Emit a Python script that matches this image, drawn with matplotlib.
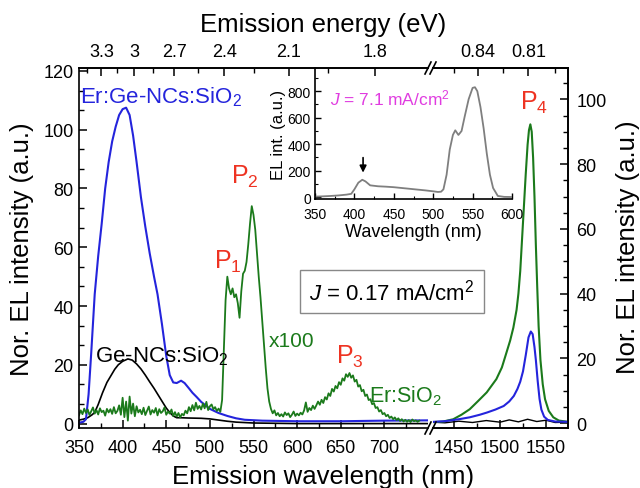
import numpy as np
import matplotlib
matplotlib.use('Agg')
import matplotlib.pyplot as plt
from matplotlib.ticker import MultipleLocator, FixedLocator
from matplotlib.lines import Line2D

plt.rcParams['font.family'] = ['Liberation Sans', 'DejaVu Sans']
plt.rcParams['mathtext.fontset'] = 'custom'
plt.rcParams['mathtext.rm'] = 'Liberation Sans'
plt.rcParams['mathtext.it'] = 'Liberation Sans:italic'

# ---- visible region (nm) ----
blue_wl = [350, 355, 358, 361, 364, 368, 372, 376, 380, 384, 388, 392, 396, 400, 404,
           408, 412, 416, 421, 426, 431, 436, 440, 445, 450, 454, 458, 462, 467, 471,
           476, 480, 485, 490, 495, 500, 510, 520, 530, 540, 560, 600, 650, 700, 750]
blue_v = [0.3, 0.6, 1.5, 10, 24, 44, 57, 68, 80, 89, 96, 101, 105, 107, 107.5,
          105, 98, 89, 77, 67, 58, 50, 44, 34, 23, 16.5, 14, 13.8, 14.6, 13.8,
          12, 10.5, 9, 7.4, 6.2, 5, 3.6, 2.6, 1.8, 1.3, 1.0, 0.8, 0.8, 1.0, 1.1]

black_wl = [350, 355, 360, 365, 368, 372, 377, 382, 387, 391, 395, 400, 406, 411, 416,
            421, 426, 431, 436, 441, 446, 450, 454, 458, 462, 466, 475, 490, 500, 510,
            520, 530, 550, 600, 650, 700, 750]
black_v = [1.2, 1.5, 2.0, 3.0, 3.8, 6.5, 10.5, 14, 16.5, 18.5, 20, 21.2, 22, 21.6, 20.3,
           18.6, 16.5, 14.2, 12, 9.6, 7.2, 5.3, 3.8, 2.6, 2.0, 2.0, 1.9, 1.8, 1.6, 1.2,
           0.8, 0.5, 0.2, 0.0, 0.0, 0.0, 0.0]

# Er:SiO2 (x100), 2 nm steps from 350 to 740 nm
green_wl = np.arange(350, 741, 2)
green_v = [
    # 350-398
    2.8, 4.5, 3.2, 5.1, 3.6, 4.8, 2.9, 4.2, 5.5, 3.4, 4.6, 3.1, 5.2, 3.9, 4.4, 2.7,
    5.0, 3.8, 4.9, 3.3, 5.6, 3.5, 4.3, 6.2, 3.0,
    # 400-418
    8.8, 2.2, 7.5, 1.0, 9.2, 3.4, 6.8, 2.5, 5.9, 3.8,
    # 420-460
    4.7, 3.2, 5.4, 2.9, 4.4, 5.8, 3.1, 4.6, 3.7, 5.3, 2.8, 4.9, 3.6, 4.2, 5.5, 3.0,
    4.1, 3.4, 4.8, 2.6, 3.9,
    # 462-478
    2.4, 3.6, 2.1, 3.3, 2.8, 4.4, 3.5, 5.6, 4.2,
    # 480-512
    6.3, 4.5, 7.1, 5.0, 6.0, 4.8, 6.8, 5.2, 7.4, 4.6, 5.9, 6.5, 4.9, 5.6, 4.3, 5.1, 4.0,
    # 514-580
    8, 25, 42, 50, 46, 44, 46, 43, 44, 41, 36, 45, 51, 52, 55, 61, 68, 74, 71, 66,
    58, 50, 43, 35, 27, 19, 12, 7.5, 5, 3.5, 4.5, 2.8, 3.6, 2.5,
    # 582-620
    3.2, 2.4, 3.8, 2.9, 3.5, 2.2, 3.0, 4.1, 2.6, 3.4, 2.8, 3.7, 3.1, 4.5, 7.2, 4.0,
    5.3, 4.6, 6.1, 5.0,
    # 622-700
    6.2, 7.5, 6.4, 8.1, 7.0, 9.0, 8.2, 10.3, 9.4, 11.8, 10.9, 12.8, 12.0, 14.1, 13.2,
    15.4, 14.6, 16.8, 15.9, 17.2, 15.6, 16.4, 14.3, 14.9, 12.6, 13.1, 11.0, 11.5, 9.4,
    9.9, 8.0, 8.3, 6.6, 7.0, 5.3, 5.6, 4.1, 4.6, 3.2, 3.6,
    # 702-740
    2.5, 3.0, 1.9, 2.4, 1.5, 2.1, 1.2, 1.8, 0.9, 1.5, 0.7, 1.3, 0.6, 1.2, 0.5, 1.4,
    0.8, 1.1, 0.6, 1.0]

# ---- IR region (nm), right axis ----
blue_ir_wl = [1427, 1440, 1455, 1467, 1478, 1486, 1495, 1504, 1510, 1515, 1519, 1522,
              1525, 1528, 1531, 1533.5, 1535.5, 1537.5, 1539, 1541, 1543, 1545, 1548,
              1552, 1560, 1574]
blue_ir_v = [0.4, 0.6, 1.2, 1.8, 2.6, 3.3, 4.2, 5.3, 6.7, 8.4, 10.6, 12.8,
             16, 21, 26.5, 28.3, 27.5, 23.5, 19.5, 13, 7.5, 4.2, 2.0,
             1.0, 0.5, 0.4]

green_ir_wl = [1427, 1438, 1449, 1458, 1467, 1476, 1485.5, 1496, 1502, 1507, 1511,
               1514.5, 1518, 1520, 1522, 1524, 1526, 1528, 1530, 1531.5, 1533, 1534.5,
               1536, 1537.5, 1539, 1540.5, 1542, 1544, 1546.5, 1549, 1553, 1558, 1564,
               1574]
green_ir_v = [0.3, 0.5, 1.2, 2.6, 4.3, 6.8, 9.5, 13.6, 17.2, 21.8, 25.5,
              29.5, 35, 40, 47, 57, 67, 77, 86, 90.5, 92.3, 90,
              82, 70, 55, 42, 30, 19.5, 12, 7.4, 3.8, 1.8, 0.8,
              0.4]

black_ir_wl = [1427, 1440, 1455, 1470, 1485, 1500, 1510, 1520, 1530, 1540, 1550, 1560, 1574]
black_ir_v = [0.3, 0.1, 0.6, 0.2, 0.8, 0.3, 1.0, 0.4, 1.2, 0.5, 0.9, 0.2, 0.3]

# ---- inset: EL at J = 7.1 mA/cm2 ----
inset_wl = [350, 360, 370, 380, 390, 396, 400, 405, 410, 414, 420, 430, 440, 450, 460,
            470, 480, 490, 500, 506, 510, 513, 517, 521, 525, 528, 532, 536, 540, 545,
            550, 553, 556, 560, 564, 568, 572, 576, 582, 590, 600]
inset_v = [5, 7, 10, 14, 20, 26, 60, 110, 132, 120, 90, 83, 80, 76, 70,
           64, 58, 52, 45, 40, 42, 60, 170, 360, 470, 505, 470, 500, 610, 740,
           825, 830, 800, 680, 520, 330, 170, 70, 10, 3, 2]

top_ev_vis = [3.3, 3, 2.7, 2.4, 2.1, 1.8]
top_ev_ir = [0.84, 0.81]

blue = '#2424dc'
green = '#1b7a1b'
red = '#ee3322'
magenta = '#e03ce0'

W, H = 640.0, 489.0


def px_box(x0, y0, x1, y1):
    return [x0 / W, 1 - y1 / H, (x1 - x0) / W, (y1 - y0) / H]


def nm2ev(x):
    x = np.array(x, float)
    x[np.isclose(x, 0)] = np.inf
    return 1240.0 / x


fig = plt.figure(figsize=(6.4, 4.89), dpi=100)
ax1 = fig.add_axes(px_box(79, 69, 428, 429))
ax2 = fig.add_axes(px_box(433, 69, 568, 429))
ax2.patch.set_visible(False)
ax2r = ax2.twinx()

ax1.plot(black_wl, black_v, color='k', lw=1.2)
ax1.plot(blue_wl, blue_v, color=blue, lw=1.5)
ax1.plot(green_wl, green_v, color=green, lw=1.3)

ax2r.plot(black_ir_wl, black_ir_v, color='k', lw=1.0)
ax2r.plot(green_ir_wl, green_ir_v, color=green, lw=1.5)
ax2r.plot(blue_ir_wl, blue_ir_v, color=blue, lw=1.5)

for a in (ax1, ax2, ax2r):
    for s in a.spines.values():
        s.set_linewidth(1.2)
ax1.spines['right'].set_visible(False)
ax2.spines['left'].set_visible(False)
ax2r.spines['left'].set_visible(False)

ax1.set_xlim(350, 750)
ax1.set_ylim(-1.5, 121)
ax1.set_xticks(range(350, 701, 50))
ax1.xaxis.set_minor_locator(FixedLocator(range(375, 726, 50)))
ax1.yaxis.set_major_locator(MultipleLocator(20))
ax1.yaxis.set_minor_locator(MultipleLocator(20 / 3))
ax1.tick_params(which='both', direction='in', top=False, right=False, labelsize=13)
ax1.tick_params(axis='x', pad=8)
ax1.tick_params(axis='y', pad=4)
ax1.tick_params(which='major', length=6, width=1.1)
ax1.tick_params(which='minor', length=3.5, width=1.0)

ax2.set_xlim(1427, 1574)
ax2.set_ylim(-1.5, 121)
ax2.set_xticks([1450, 1500, 1550])
ax2.xaxis.set_minor_locator(FixedLocator([1475, 1525]))
ax2.tick_params(which='both', direction='in', left=False, labelleft=False,
                right=False, top=False, labelsize=13, pad=8)
ax2.tick_params(which='major', length=6, width=1.1)
ax2.tick_params(which='minor', length=3.5, width=1.0)

ax2r.set_ylim(-1.5, 109.7)
ax2r.yaxis.set_major_locator(MultipleLocator(20))
ax2r.yaxis.set_minor_locator(MultipleLocator(5))
ax2r.tick_params(which='both', direction='in', labelsize=13, pad=6)
ax2r.tick_params(which='major', length=6, width=1.1)
ax2r.tick_params(which='minor', length=3.5, width=1.0)

# top energy axes
sec1 = ax1.secondary_xaxis('top', functions=(nm2ev, nm2ev))
sec1.set_xticks(top_ev_vis, labels=['3.3', '3', '2.7', '2.4', '2.1', '1.8'])
sec1.xaxis.set_minor_locator(FixedLocator([3.45, 3.15, 2.85, 2.55, 2.25, 1.95, 1.65]))
sec2 = ax2.secondary_xaxis('top', functions=(nm2ev, nm2ev))
sec2.set_xticks(top_ev_ir, labels=['0.84', '0.81'])
sec2.xaxis.set_minor_locator(FixedLocator([0.855, 0.825, 0.795]))
for s in (sec1, sec2):
    s.tick_params(which='both', direction='in', labelsize=13, pad=6)
    s.tick_params(which='major', length=6, width=1.1)
    s.tick_params(which='minor', length=3.5, width=1.0)
    s.spines['top'].set_linewidth(1.2)

# axis break marks
for xb in (428, 433):
    for yb in (69, 429):
        fig.add_artist(Line2D([(xb - 3) / W, (xb + 3) / W],
                              [1 - (yb + 6) / H, 1 - (yb - 6) / H],
                              transform=fig.transFigure, color='k', lw=1.2))

# labels
fig.text(323.5 / W, 1 - 25 / H, 'Emission energy (eV)', ha='center', va='center', fontsize=18.5)
fig.text(323.5 / W, 1 - 477 / H, 'Emission wavelength (nm)', ha='center', va='center', fontsize=18.5)
fig.text(22 / W, 1 - 249 / H, 'Nor. EL intensity (a.u.)', ha='center', va='center',
         rotation=90, fontsize=18.5)
fig.text(628 / W, 1 - 247 / H, 'Nor. EL intensity (a.u.)', ha='center', va='center',
         rotation=90, fontsize=18.5)

ax1.text(351, 109.2, 'Er:Ge-NCs:SiO$_2$', color=blue, fontsize=16)
ax1.text(368.8, 21.2, 'Ge-NCs:SiO$_2$', color='k', fontsize=16)
ax1.text(505.3, 53, 'P$_1$', color=red, fontsize=18)
ax1.text(524.4, 81.9, 'P$_2$', color=red, fontsize=18)
ax1.text(644.5, 20.7, 'P$_3$', color=red, fontsize=18)
ax1.text(568, 26.3, 'x100', color=green, fontsize=15)
ax1.text(682.6, 7.6, 'Er:SiO$_2$', color=green, fontsize=15.5, clip_on=False)
ax2r.text(1521.7, 97, 'P$_4$', color=red, fontsize=18)

fig.text(392 / W, 1 - 292.5 / H, r'$J$ = 0.17 mA/cm$^2$', ha='center', va='center',
         fontsize=16, bbox=dict(boxstyle='square,pad=0.4', fc='white', ec='#888888', lw=1))

# inset
ins = fig.add_axes(px_box(315, 69, 512, 200))
ins.patch.set_visible(False)
ins.plot(inset_wl, inset_v, color='#7f7f7f', lw=1.3)
ins.set_xlim(350, 600)
ins.set_ylim(-13, 975)
ins.spines['top'].set_visible(False)
ins.spines['right'].set_visible(False)
for s in ('left', 'bottom'):
    ins.spines[s].set_linewidth(1.2)
ins.set_xticks(range(350, 601, 50))
ins.xaxis.set_minor_locator(MultipleLocator(25))
ins.set_yticks(range(0, 801, 200))
ins.yaxis.set_minor_locator(MultipleLocator(100))
ins.tick_params(which='both', direction='in', labelsize=10, pad=3)
ins.tick_params(axis='x', pad=6)
ins.tick_params(which='major', length=4, width=1.0)
ins.tick_params(which='minor', length=2, width=0.8)
ins.set_xlabel('Wavelength (nm)', fontsize=13, labelpad=1)
ins.set_ylabel('EL int. (a.u.)', fontsize=12, labelpad=1)
ins.text(369, 704, r'$J$ = 7.1 mA/cm$^2$', color=magenta, fontsize=12.5)
ins.annotate('', xy=(411, 165), xytext=(411, 320),
             arrowprops=dict(arrowstyle='-|>', color='k', lw=1.2, mutation_scale=10))

fig.savefig('out.png', dpi=100)
